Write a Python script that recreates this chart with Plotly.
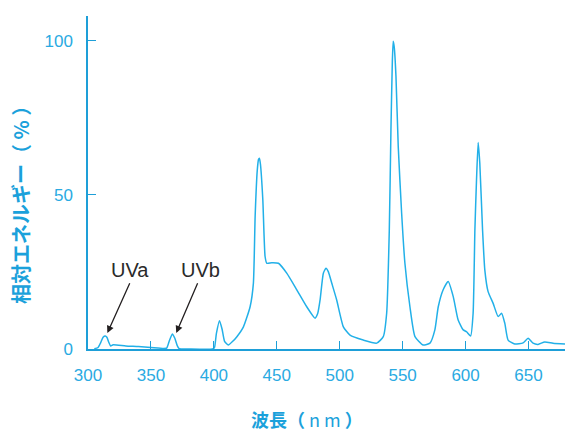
import plotly.graph_objects as go

wavelength = [305, 308, 310, 312, 313.7, 315, 316.5, 318, 320, 330, 340, 350, 360,
              362.5, 364.5, 367, 369, 371, 372.5, 380, 399,
              400.5, 402, 404.5, 406.5, 408.5, 411.5, 415, 418.3, 423.5, 428.8, 431.4,
              432.8, 434.5, 435.5, 436.2, 437, 438.9, 440.7, 442.1, 446, 451.3, 457.9,
              465.9, 473.8, 480.4, 482.5, 484.4, 487, 489.1, 491, 493.7, 497.6, 502.9,
              508.2, 518.7, 529.4, 534.6, 537.3, 539.4, 540.7, 541.8, 542.5, 543.3,
              544.7, 546.5, 549.2, 551.8, 555.8, 559.8, 566.3, 571.7, 575.6, 578.3,
              582.2, 586.2, 590.2, 594.1, 598.1, 600.8, 604, 606, 607.4, 608.7, 610,
              611.3, 613.5, 615.3, 617.9, 621.9, 625.9, 628.6, 631.2, 633.8, 639.1,
              645.7, 649.7, 653.6, 657.6, 662.9, 669.5, 679]
energy = [0.1, 0.5, 2.0, 3.8, 4.2, 3.8, 2.2, 1.0, 1.4, 1.0, 0.8, 0.5, 0.2,
          0.3, 2.5, 4.9, 3.5, 1.0, 0.1, 0, 0,
          0.5, 5, 9.2, 6.5, 2.5, 1.3, 2.5, 4.0, 7.2, 13.7, 21.3,
          43, 58, 61.5, 61.9, 60, 48.4, 30, 27.8, 28, 27.8, 24.6,
          19.2, 13.7, 10, 11.5, 15.9, 24.6, 26.2, 25, 21.3, 15.9, 7.2,
          4.5, 2.9, 1.9, 4.0, 11.6, 38.6, 71, 93, 99.8, 98,
          88.4, 65.7, 44, 27.8, 13.7, 4.0, 1.3, 1.9, 6.2, 13.7,
          19.2, 21.9, 17, 9.4, 6.2, 5.6, 4.2, 11.6, 38.6, 54.9, 67,
          60.3, 38.6, 25.6, 18.6, 14.8, 10.5, 11.6, 8.3, 2.9, 1.6,
          2.0, 3.5, 1.9, 1.5, 2.3, 1.9, 1.6]

x_ticks = [300, 350, 400, 450, 500, 550, 600, 650]
y_ticks = [0, 50, 100]

labels = ["UVa", "UVb"]
label_pos = [(333.6, 25.6), (389.2, 25.6)]
arrow_tail = [(333.7, 21.8), (387.6, 21.8)]
arrow_tip = [(315.4, 5.2), (370.1, 5.2)]

x_title = "<b>波長（</b> n m <b>）</b>"
y_title = "<b>相対エネルギー（ % ）</b>"

AXIS = "#1e9fd8"
TICKTXT = "#2aaae2"
LINE = "#22b0e8"
TITLE = "#1ba1db"
NUMFONT = "Liberation Sans Narrow, Arial Narrow, Liberation Sans, Arial"
CJK = "Noto Sans CJK JP"

W, H = 565, 432
ML, MR, MT, MB = 88, 0, 16, 83
plot_w = W - ML - MR
plot_h = H - MT - MB

fig = go.Figure()
fig.add_trace(go.Scatter(x=wavelength, y=energy, mode="lines",
                         line=dict(color=LINE, width=1.5, shape="spline", smoothing=0.5),
                         hoverinfo="skip", showlegend=False))

for t, (tx, ty), (ax, ay), (hx, hy) in zip(labels, label_pos, arrow_tail, arrow_tip):
    fig.add_annotation(x=tx, y=ty, xref="x", yref="y", text=t, showarrow=False,
                       font=dict(family="Liberation Sans, Arial", size=20, color="#2a2a2a"))
    fig.add_annotation(x=hx, y=hy, ax=ax, ay=ay, xref="x", yref="y", axref="x", ayref="y",
                       text="", showarrow=True, arrowhead=2, arrowsize=1.1,
                       arrowwidth=1.3, arrowcolor="#231f20")

fig.add_annotation(x=(307 - ML) / plot_w, y=(H - MB - 434) / plot_h, xref="paper", yref="paper",
                   text=x_title, showarrow=False, xanchor="center", yanchor="bottom",
                   font=dict(family=CJK, size=18, color=TITLE))
fig.add_annotation(x=(20 - ML) / plot_w, y=(H - MB - 200) / plot_h, xref="paper", yref="paper",
                   text=y_title, showarrow=False, textangle=-90,
                   xanchor="center", yanchor="middle",
                   font=dict(family=CJK, size=20, color=TITLE))

fig.update_layout(
    width=W, height=H,
    margin=dict(l=ML, r=MR, t=MT, b=MB),
    paper_bgcolor="white", plot_bgcolor="white",
    xaxis=dict(range=[300, 679], tickvals=x_ticks, ticks="inside", ticklen=8,
               tickcolor=AXIS, tickwidth=1.2, showline=True, linecolor=AXIS, linewidth=1.5,
               showgrid=False, zeroline=False, ticklabelstandoff=10,
               tickfont=dict(family=NUMFONT, size=17, color=TICKTXT)),
    yaxis=dict(range=[0, 108], tickvals=y_ticks, ticks="inside", ticklen=8,
               tickcolor=AXIS, tickwidth=1.2, showline=True, linecolor=AXIS, linewidth=1.5,
               showgrid=False, zeroline=False, ticklabelstandoff=10,
               tickfont=dict(family=NUMFONT, size=17, color=TICKTXT)),
)

fig.write_html("out.html", config={"displayModeBar": False},
               post_script="document.body.style.margin='0';document.body.style.padding='0';")
